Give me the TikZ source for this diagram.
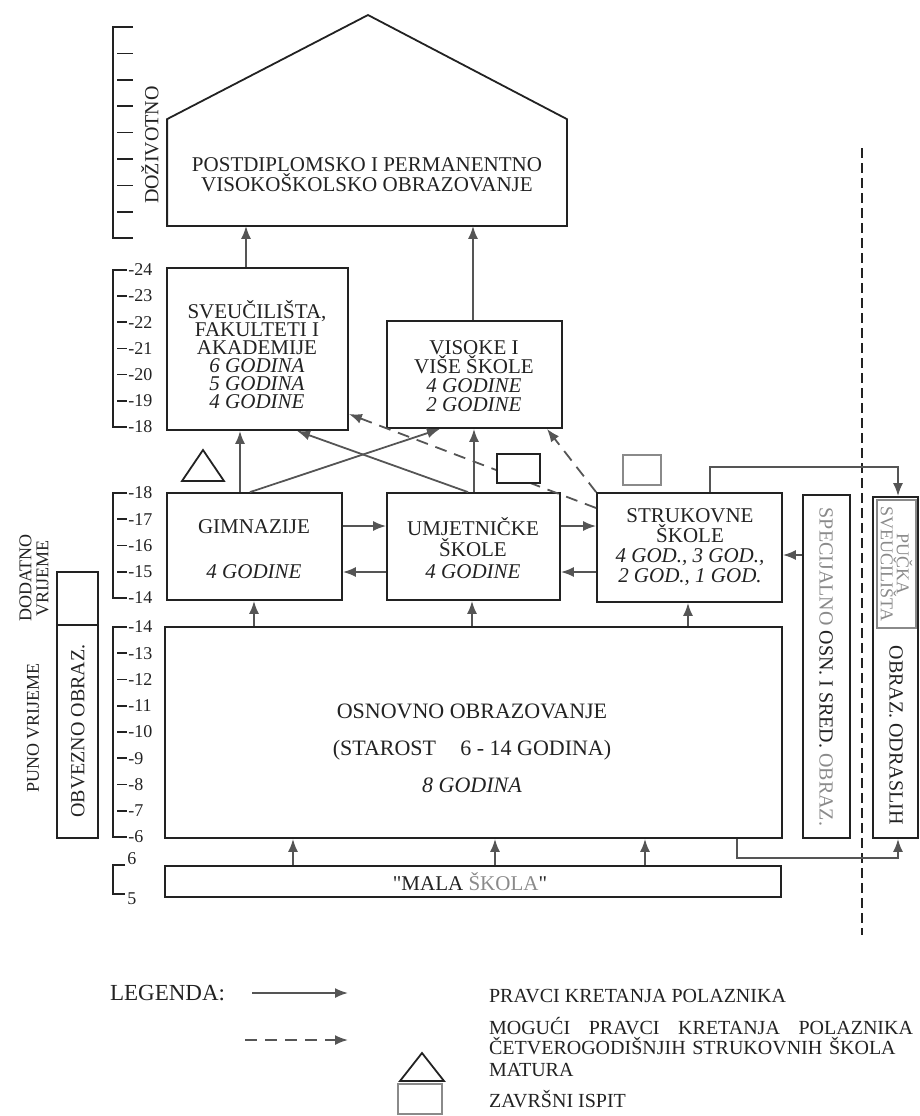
\documentclass[tikz,border=0pt]{standalone}
\usepackage{fontspec}
\setmainfont{Liberation Serif}
\newfontfamily\plainserif{Liberation Serif}
\usetikzlibrary{arrows.meta,fit}

\definecolor{ink}{HTML}{222222}
\definecolor{arrowgray}{HTML}{555555}
\definecolor{pale}{HTML}{8A8A8A}

\tikzset{
  box/.style={draw=ink, line width=0.9pt, inner sep=0pt},
  boxlbl/.style={align=center, text=ink, inner sep=0pt, font=\fontsize{10.5}{9.5}\selectfont},
  flow/.style={draw=arrowgray, line width=0.9pt, -{Latex[length=6.5pt,width=5pt]}},
  maybe/.style={flow, dash pattern=on 6pt off 4pt},
  scaleline/.style={draw=ink, line width=0.8pt},
  agelbl/.style={anchor=west, inner sep=0.5pt, text=ink, font=\fontsize{9}{9}\selectfont},
  sidelbl/.style={align=center, text=ink, font=\fontsize{10}{10}\selectfont},
}

\begin{document}
\begin{tikzpicture}[x=0.5pt,y=-0.5pt]
	\useasboundingbox (0,0) rectangle (920,1116);

	%%  postdiplomsko (house)  %%%%%%%%
	\node[box, draw=none, fit={(168,120) (566,225)}] (post) {};
	\draw[scaleline, line width=0.9pt] (post.north west) -- (post.south west) -- (post.south east) -- (post.north east) -- (368,15) -- cycle;
	\node[boxlbl, font=\fontsize{10.5}{10}\selectfont] (posttxt) at (367,175) {POSTDIPLOMSKO I PERMANENTNO\\VISOKOŠKOLSKO OBRAZOVANJE};

	%%  age scales  %%%%%%%%
	\draw[scaleline] (133,27) -- (113,27) -- (113,238) -- (133,238);
	\foreach \k in {1,...,7} \draw[scaleline] (117,{27+26.4*\k}) -- (133,{27+26.4*\k});
	\node[sidelbl, rotate=90] (dozivotno) at (150,145) {DOŽIVOTNO};

	\draw[scaleline] (127,270) -- (113,270) -- (113,427) -- (127,427);
	\foreach \a in {19,...,23} \draw[scaleline] (117,{427-(\a-18)*26.2}) -- (127,{427-(\a-18)*26.2});
	\foreach \a in {18,...,24} \node[agelbl] (va\a) at (127,{427-(\a-18)*26.2}) {-\a};

	\draw[scaleline] (127,493) -- (113,493) -- (113,598) -- (127,598);
	\foreach \a in {15,16,17} \draw[scaleline] (117,{598-(\a-14)*26.25}) -- (127,{598-(\a-14)*26.25});
	\foreach \a in {14,...,18} \node[agelbl] (vb\a) at (127,{598-(\a-14)*26.25}) {-\a};

	\draw[scaleline] (127,627) -- (113,627) -- (113,837) -- (127,837);
	\foreach \a in {7,...,13} \draw[scaleline] (117,{837-(\a-6)*26.25}) -- (127,{837-(\a-6)*26.25});
	\foreach \a in {6,...,14} \node[agelbl] (vc\a) at (127,{837-(\a-6)*26.25}) {-\a};

	\draw[scaleline] (125,865) -- (113,865) -- (113,894) -- (125,894);
	\node[agelbl] (vd6) at (126,859) {6};
	\node[agelbl] (vd5) at (126,899) {5};

	%%  schools  %%%%%%%%
	\node[box, fit={(167,268) (348,430)}] (sveuc) {};
	\node[boxlbl, font=\fontsize{10.5}{9}\selectfont] (sveuctxt) at (257,355) {SVEUČILIŠTA,\\FAKULTETI I\\AKADEMIJE\\\textit{6 GODINA}\\\textit{5 GODINA}\\\textit{4 GODINE}};
	\node[box, fit={(387,321) (562,428)}] (visoke) {};
	\node[boxlbl] (visoketxt) at (474,376) {VISOKE I\\VIŠE ŠKOLE\\\textit{4 GODINE}\\\textit{2 GODINE}};
	\node[box, fit={(167,493) (342,600)}] (gimn) {};
	\node[boxlbl] (gimntxt) at (254,549) {GIMNAZIJE\\[13pt]\textit{4 GODINE}};
	\node[box, fit={(387,493) (560,600)}] (umj) {};
	\node[boxlbl, font=\fontsize{10.5}{10.75}\selectfont] (umjtxt) at (473,548) {UMJETNIČKE\\ŠKOLE\\\textit{4 GODINE}};
	\node[box, fit={(597,493) (782,602)}] (struk) {};
	\node[boxlbl, font=\fontsize{10.5}{10}\selectfont] (struktxt) at (690,547) {STRUKOVNE\\ŠKOLE\\\textit{4 GOD., 3 GOD.,}\\\textit{2 GOD., 1 GOD.}};
	\node[box, fit={(165,627) (782,838)}] (osnov) {};
	\node[boxlbl, font=\fontsize{11}{10}\selectfont] (osnovtxt) at (472,748) {OSNOVNO OBRAZOVANJE\\[8.5pt](STAROST\hspace{1.1em}6 - 14 GODINA)\\[8.5pt]\textit{8 GODINA}};
	\node[box, fit={(165,866) (781,897)}] (mala) {};
	\node[boxlbl] (malatxt) at (470,882) {{\plainserif"}MALA {\color{pale}ŠKOLA}{\plainserif"}};

	%%  side columns  %%%%%%%%
	\node[box, fit={(57,572) (98,838)}] (obvez) {};
	\draw[scaleline, line width=0.9pt] (obvez.west |- 0,625) -- (obvez.east |- 0,625);
	\node[sidelbl, rotate=90] (obveztxt) at (78,731) {OBVEZNO OBRAZ.};
	\node[sidelbl, rotate=90, font=\fontsize{9}{9}\selectfont] (puno) at (33,728) {PUNO VRIJEME};
	\node[sidelbl, rotate=90, font=\fontsize{9}{8.5}\selectfont] (dodatno) at (34,578) {DODATNO\\VRIJEME};

	\node[box, fit={(803,495) (850,838)}] (spec) {};
	\node[sidelbl, rotate=-90] (spectxt) at (826,667) {{\color{pale}SPECIJALNO} OSN. I SRED. {\color{pale}OBRAZ.}};
	\node[box, fit={(873,497) (918,838)}] (odr) {};
	\node[box, line width=0.7pt, draw=pale, fit={(877,500) (916,628)}] (pucka) {};
	\node[sidelbl, rotate=-90, text=pale, font=\fontsize{9}{8}\selectfont] (puckatxt) at (pucka) {PUČKA\\SVEUČILIŠTA};
	\node[sidelbl, rotate=-90] (odrtxt) at (896,735) {OBRAZ. ODRASLIH};

	\draw[draw=ink, line width=0.7pt, dash pattern=on 5pt off 2.5pt] (862,148) -- (862,935);

	%%  flows  %%%%%%%%
	\draw[flow] (sveuc.north -| 246,0) -- (post.south -| 246,0);
	\draw[flow] (visoke.north -| 473,0) -- (post.south -| 473,0);
	\draw[flow] (gimn.north -| 240,0) -- (sveuc.south -| 240,0);
	\draw[flow] (gimn.north -| 250,0) -- (visoke.south -| 440,0);
	\draw[flow] (umj.north -| 468,0) -- (sveuc.south -| 297,0);
	\draw[flow] (umj.north -| 474,0) -- (visoke.south -| 474,0);
	\draw[flow] (gimn.east |- 0,526) -- (umj.west |- 0,526);
	\draw[flow] (umj.west |- 0,572) -- (gimn.east |- 0,572);
	\draw[flow] (umj.east |- 0,526) -- (struk.west |- 0,526);
	\draw[flow] (struk.west |- 0,572) -- (umj.east |- 0,572);
	\draw[flow] (spec.west |- 0,555) -- (struk.east |- 0,555);
	\draw[flow] (osnov.north -| 254,0) -- (gimn.south -| 254,0);
	\draw[flow] (osnov.north -| 472,0) -- (umj.south -| 472,0);
	\draw[flow] (osnov.north -| 688,0) -- (struk.south -| 688,0);
	\draw[flow] (mala.north -| 293,0) -- (osnov.south -| 293,0);
	\draw[flow] (mala.north -| 495,0) -- (osnov.south -| 495,0);
	\draw[flow] (mala.north -| 645,0) -- (osnov.south -| 645,0);
	\draw[flow] (struk.north -| 710,0) -- (710,467) -| (odr.north -| 898,0);
	\draw[flow] (osnov.south -| 737,0) -- (737,858) -| (odr.south -| 898,0);
	\draw[maybe] (struk.west |- 0,508) -- (sveuc.east |- 0,414);
	\draw[maybe] (struk.north west) -- (visoke.south -| 547,0);

	%%  exams  %%%%%%%%
	\draw[scaleline, line width=0.9pt] (182,481) -- (203,450) -- (224,481) -- cycle;
	\node[box, fill=white, fit={(497,454) (540,483)}] (ispit1) {};
	\node[box, fill=white, draw=pale, fit={(623,455) (661,485)}] (ispit2) {};

	%%  legend  %%%%%%%%
	\node[anchor=west, text=ink, font=\fontsize{11.5}{11.5}\selectfont] (legenda) at (103,993) {LEGENDA:};
	\coordinate (leg1a) at (252,993);
	\coordinate (leg1b) at (348,993);
	\draw[flow] (leg1a) -- (leg1b);
	\node[sidelbl, anchor=west] (leg1t) at (482,996) {PRAVCI KRETANJA POLAZNIKA};
	\coordinate (leg2a) at (245,1040);
	\coordinate (leg2b) at (348,1040);
	\draw[maybe] (leg2a) -- (leg2b);
	\node[sidelbl, anchor=west, align=left, text width=212pt, font=\fontsize{10}{8.5}\selectfont] (leg2t) at (482,1036) {MOGUĆI\hfill PRAVCI\hfill KRETANJA\hfill POLAZNIKA\\ČETVEROGODIŠNJIH STRUKOVNIH ŠKOLA};
	\draw[scaleline, line width=0.9pt] (400,1081) -- (422,1053) -- (444,1081) -- cycle;
	\node[sidelbl, anchor=west] (leg3t) at (482,1070) {MATURA};
	\node[box, draw=pale, fit={(398,1084) (442,1114)}] (legbox) {};
	\node[sidelbl, anchor=west] (leg4t) at (482,1099) {ZAVRŠNI ISPIT};
\end{tikzpicture}
\end{document}
